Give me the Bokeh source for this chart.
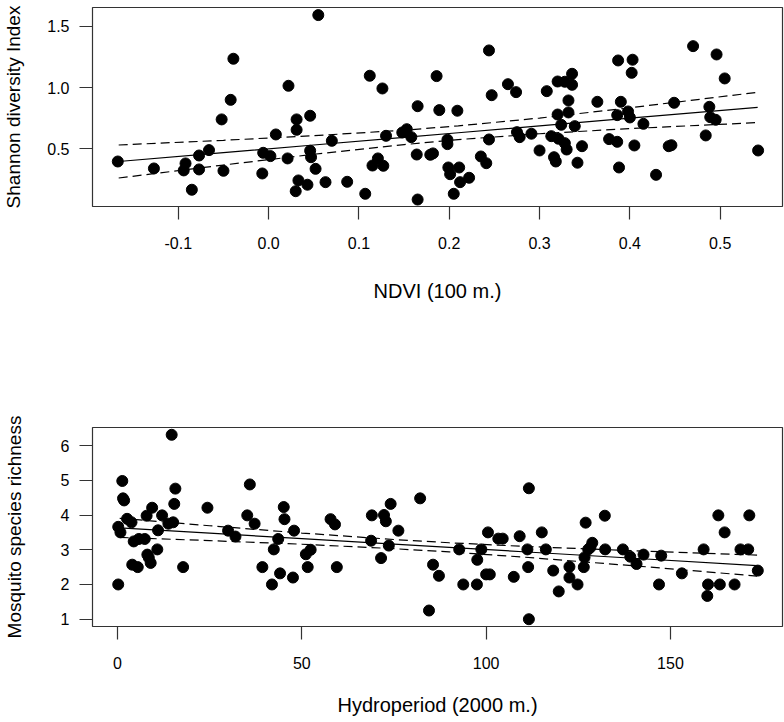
from bokeh.plotting import figure
from bokeh.layouts import column
from bokeh.models import FixedTicker, Range1d
from bokeh.embed import file_html
from bokeh.resources import INLINE

# ---------------- data: top panel (NDVI vs Shannon) ----------------
ndvi = [-0.167, -0.127, -0.092, -0.094, -0.077, -0.077, -0.085, -0.066, -0.052, -0.042,
        -0.039, -0.050, -0.007, -0.006, 0.002, 0.008, 0.022, 0.021, 0.031, 0.031,
        0.033, 0.030, 0.043, 0.046, 0.046, 0.047, 0.052, 0.055, 0.063, 0.070,
        0.087, 0.107, 0.112, 0.115, 0.121, 0.126, 0.127, 0.130, 0.148, 0.153,
        0.158, 0.165, 0.164, 0.165,
        0.179, 0.182, 0.186, 0.189, 0.198, 0.198, 0.199, 0.201, 0.205, 0.209,
        0.211, 0.212, 0.222, 0.235, 0.241, 0.244, 0.244, 0.247, 0.265, 0.274,
        0.275, 0.278, 0.291, 0.300, 0.308, 0.313, 0.316, 0.318, 0.320, 0.320,
        0.321, 0.324, 0.328, 0.328, 0.330, 0.332, 0.332, 0.336, 0.336, 0.339,
        0.342, 0.347, 0.364, 0.377, 0.386, 0.386, 0.387, 0.388, 0.390, 0.398,
        0.400, 0.403, 0.402, 0.405, 0.415, 0.429, 0.443, 0.446, 0.449, 0.470,
        0.484, 0.488, 0.489, 0.495, 0.496, 0.505, 0.542]
shannon = [0.396, 0.339, 0.380, 0.323, 0.445, 0.331, 0.165, 0.489, 0.740, 0.900,
           1.236, 0.320, 0.298, 0.467, 0.440, 0.617, 1.015, 0.421, 0.740, 0.655,
           0.241, 0.153, 0.206, 0.770, 0.484, 0.431, 0.336, 1.593, 0.227, 0.565,
           0.230, 0.132, 1.097, 0.363, 0.421, 0.993, 0.361, 0.606, 0.633, 0.660,
           0.595, 0.848, 0.453, 0.085,
           0.451, 0.462, 1.094, 0.816, 0.574, 0.538, 0.347, 0.292, 0.132, 0.811,
           0.347, 0.227, 0.263, 0.437, 0.382, 1.304, 0.576, 0.938, 1.028, 0.963,
           0.636, 0.595, 0.623, 0.486, 0.971, 0.603, 0.431, 0.396, 1.050, 0.780,
           0.582, 0.696, 0.546, 1.048, 0.494, 0.895, 0.797, 1.113, 1.023, 0.685,
           0.386, 0.521, 0.884, 0.579, 0.557, 0.775, 1.222, 0.347, 0.884, 0.805,
           0.756, 1.228, 1.121, 0.527, 0.704, 0.287, 0.521, 0.529, 0.876, 1.339,
           0.609, 0.843, 0.758, 0.737, 1.271, 1.075, 0.486]

# fitted line and 95% confidence band
ndvi_fit_x = [-0.166, -0.05, 0.05, 0.15, 0.21, 0.30, 0.40, 0.5415]
ndvi_fit_y = [0.396, 0.468, 0.531, 0.593, 0.631, 0.687, 0.750, 0.838]
ndvi_fit_hi = [0.531, 0.569, 0.607, 0.652, 0.687, 0.751, 0.835, 0.962]
ndvi_fit_lo = [0.261, 0.367, 0.455, 0.534, 0.575, 0.623, 0.665, 0.714]

top_x_ticks = [-0.1, 0.0, 0.1, 0.2, 0.3, 0.4, 0.5]
top_x_labels = ["-0.1", "0.0", "0.1", "0.2", "0.3", "0.4", "0.5"]
top_y_ticks = [0.5, 1.0, 1.5]
top_y_labels = ["0.5", "1.0", "1.5"]

# ---------------- data: bottom panel (Hydroperiod vs richness) ----------------
hydro = [0.2, 0.2, 0.8, 1.3, 1.5, 1.8, 2.6, 3.8, 4.4, 4.0,
         5.5, 5.8, 7.4, 7.9, 9.4, 8.1, 8.5, 9.0, 10.8, 11.0,
         12.1, 13.8, 14.7, 15.4, 15.7, 15.1, 17.8, 24.4, 30.0, 32.0,
         35.9, 35.2, 37.2, 39.3, 42.4, 41.9, 43.6, 44.1, 45.1, 45.3,
         47.6, 47.9, 51.1, 52.4, 51.6, 57.8, 59.0, 59.5, 69.0, 68.8,
         71.5, 72.3, 72.8, 73.6, 74.1, 76.2, 82.1, 84.5,
         85.6, 87.2, 92.7, 93.8, 97.5, 97.6, 98.7, 100.0, 101.0, 100.5,
         103.3, 104.5, 107.5, 109.1, 111.2, 111.4, 111.6, 111.6, 115.1, 116.2,
         118.2, 119.7, 122.6, 122.6, 124.8, 126.5, 126.7, 127.0, 127.7, 128.3,
         128.8, 132.2, 132.3, 137.1, 139.1, 140.8, 142.7, 146.9, 147.5, 153.1,
         159.0, 160.2, 160.0, 163.0, 163.4, 164.7, 167.4, 169.0, 171.1, 171.4,
         173.7]
richness = [2.00, 3.66, 3.50, 4.98, 4.48, 4.42, 3.89, 3.79, 3.24, 2.57,
            2.50, 3.31, 3.31, 3.98, 4.21, 2.86, 2.77, 2.62, 3.01, 3.56,
            3.99, 3.75, 6.31, 4.32, 4.76, 3.79, 2.50, 4.21, 3.55, 3.38,
            4.88, 3.99, 3.75, 2.50, 3.01, 2.00, 3.31, 2.32, 4.23, 3.88,
            2.20, 3.55, 2.87, 3.00, 2.50, 3.88, 3.73, 2.50, 3.99, 3.26,
            2.76, 4.00, 3.82, 3.12, 4.32, 3.55, 4.48, 1.25,
            2.57, 2.25, 3.01, 2.00, 2.00, 2.71, 3.01, 2.29, 2.29, 3.50,
            3.32, 3.32, 2.22, 3.39, 3.01, 2.50, 4.77, 1.00, 3.50, 3.01,
            2.40, 1.80, 2.51, 2.20, 2.00, 2.50, 2.78, 3.78, 3.01, 3.07,
            3.20, 3.98, 3.01, 3.01, 2.80, 2.59, 2.86, 2.00, 2.83, 2.32,
            3.01, 2.00, 1.67, 3.99, 2.00, 3.50, 2.00, 3.01, 3.01, 3.99,
            2.40]

hydro_fit_x = [0.6, 25, 50, 75, 90, 110, 140, 173.5]
hydro_fit_y = [3.630, 3.477, 3.320, 3.163, 3.069, 2.943, 2.755, 2.545]
hydro_fit_hi = [3.905, 3.691, 3.481, 3.295, 3.201, 3.098, 2.971, 2.847]
hydro_fit_lo = [3.355, 3.263, 3.159, 3.031, 2.937, 2.789, 2.539, 2.243]

bot_x_ticks = [0, 50, 100, 150]
bot_x_labels = ["0", "50", "100", "150"]
bot_y_ticks = [1, 2, 3, 4, 5, 6]
bot_y_labels = ["1", "2", "3", "4", "5", "6"]

FONT = "Liberation Sans"
EDGE = "#333333"


def panel(xs, ys, fx, fy, fhi, flo, xr, yr, xt, xl, yt, yl, xlab, ylab,
          height, top, bottom, y_als, x_als):
    p = figure(width=784, height=height, output_backend="svg", toolbar_location=None,
               x_range=Range1d(*xr), y_range=Range1d(*yr),
               min_border_left=92, min_border_right=2,
               min_border_top=top, min_border_bottom=bottom)
    p.background_fill_color = "white"
    p.border_fill_color = "white"
    p.outline_line_color = EDGE
    p.outline_line_width = 1.2
    p.xgrid.visible = False
    p.ygrid.visible = False

    for ax, ticks, labels, lab, als in ((p.xaxis[0], xt, xl, xlab, x_als),
                                        (p.yaxis[0], yt, yl, ylab, y_als)):
        ax.ticker = FixedTicker(ticks=ticks)
        ax.major_label_overrides = {t: s for t, s in zip(ticks, labels)}
        ax.axis_line_color = None
        ax.major_tick_in = 0
        ax.major_tick_out = 13
        ax.major_tick_line_color = EDGE
        ax.major_tick_line_width = 1.2
        ax.minor_tick_line_color = None
        ax.major_label_text_font = FONT
        ax.major_label_text_font_size = "16px"
        ax.major_label_text_color = "black"
        ax.axis_label = lab
        ax.axis_label_text_font = FONT
        ax.axis_label_text_font_style = "normal"
        ax.axis_label_text_color = "black"
        ax.axis_label_standoff = als
    p.xaxis[0].axis_label_text_font_size = "20px"
    p.yaxis[0].axis_label_text_font_size = "19px"
    p.xaxis[0].major_label_standoff = 17
    p.yaxis[0].major_label_standoff = 10

    p.line(fx, fy, line_color="black", line_width=1.2)
    p.line(fx, fhi, line_color="black", line_width=1.2, line_dash="9 5")
    p.line(fx, flo, line_color="black", line_width=1.2, line_dash="9 5")
    p.scatter(xs, ys, marker="circle", size=11, fill_color="black", line_color="black")
    return p


p1 = panel(ndvi, shannon, ndvi_fit_x, ndvi_fit_y, ndvi_fit_hi, ndvi_fit_lo,
           (-0.195, 0.569), (0.028, 1.655), top_x_ticks, top_x_labels,
           top_y_ticks, top_y_labels, "NDVI (100 m.)", "Shannon diversity Index",
           height=330, top=7, bottom=124, y_als=20, x_als=28)
p2 = panel(hydro, richness, hydro_fit_x, hydro_fit_y, hydro_fit_hi, hydro_fit_lo,
           (-6.78, 180.4), (0.79, 6.52), bot_x_ticks, bot_x_labels,
           bot_y_ticks, bot_y_labels, "Hydroperiod (2000 m.)", "Mosquito species richness",
           height=392, top=97, bottom=96, y_als=33, x_als=22)

layout = column(p1, p2, spacing=0)
open("out.html", "w").write(file_html(layout, INLINE))
